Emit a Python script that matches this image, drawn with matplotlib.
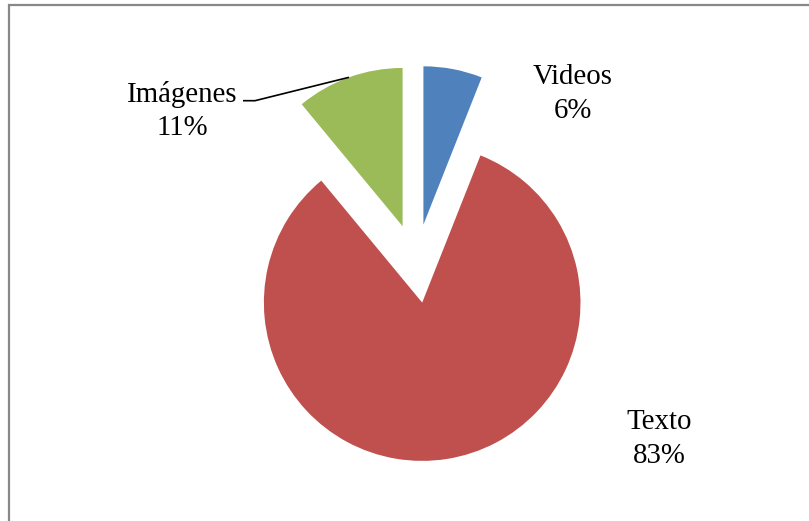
import numpy as np
import matplotlib.pyplot as plt
from matplotlib.patches import Rectangle

# Distribución del contenido por tipo
categorias = ['Videos', 'Texto', 'Imágenes']
valores = [6, 83, 11]
colores = ['#4F81BD', '#C0504D', '#9BBB59']

ancho, alto = 809, 521
centro = (416, alto - 263.5)
radio = 158.3

fig = plt.figure(figsize=(ancho / 100, alto / 100), dpi=100)
ax = fig.add_axes([0, 0, 1, 1])

# todas las porciones separadas del centro
wedges, _ = ax.pie(valores, colors=colores, startangle=90, counterclock=False,
                   radius=radio, center=centro, explode=[radio * 0.25] * 3,
                   wedgeprops={'linewidth': 0})

ax.set_xlim(0, ancho)
ax.set_ylim(0, alto)
ax.set_aspect('equal')
ax.axis('off')

# etiquetas con nombre y porcentaje
total = sum(valores)
pos_etiquetas = {'Videos': (573, alto - 94), 'Texto': (659, alto - 439), 'Imágenes': (182, alto - 111)}
fuente = dict(family='Liberation Serif', size=20.8, color='black')
for cat, val in zip(categorias, valores):
    x, y = pos_etiquetas[cat]
    ax.text(x, y, f'{cat}\n{val / total * 100:.0f}%', ha='center', va='center',
            multialignment='center', linespacing=1.38, **fuente)

# línea guía de Imágenes hasta el borde de su porción
w = wedges[2]
tm = np.deg2rad((w.theta1 + w.theta2) / 2)
px = w.center[0] + w.r * np.cos(tm)
py = w.center[1] + w.r * np.sin(tm)
ax.plot([243, 255, px], [alto - 100.7, alto - 100.7, py], color='black', lw=1.2,
        solid_capstyle='butt')

# marco gris del gráfico
ax.add_patch(Rectangle((9.5, -20), ancho + 20, alto - 5 + 20, fill=False,
                       edgecolor='#888888', lw=1.6))

fig.savefig('out.png', dpi=100)
